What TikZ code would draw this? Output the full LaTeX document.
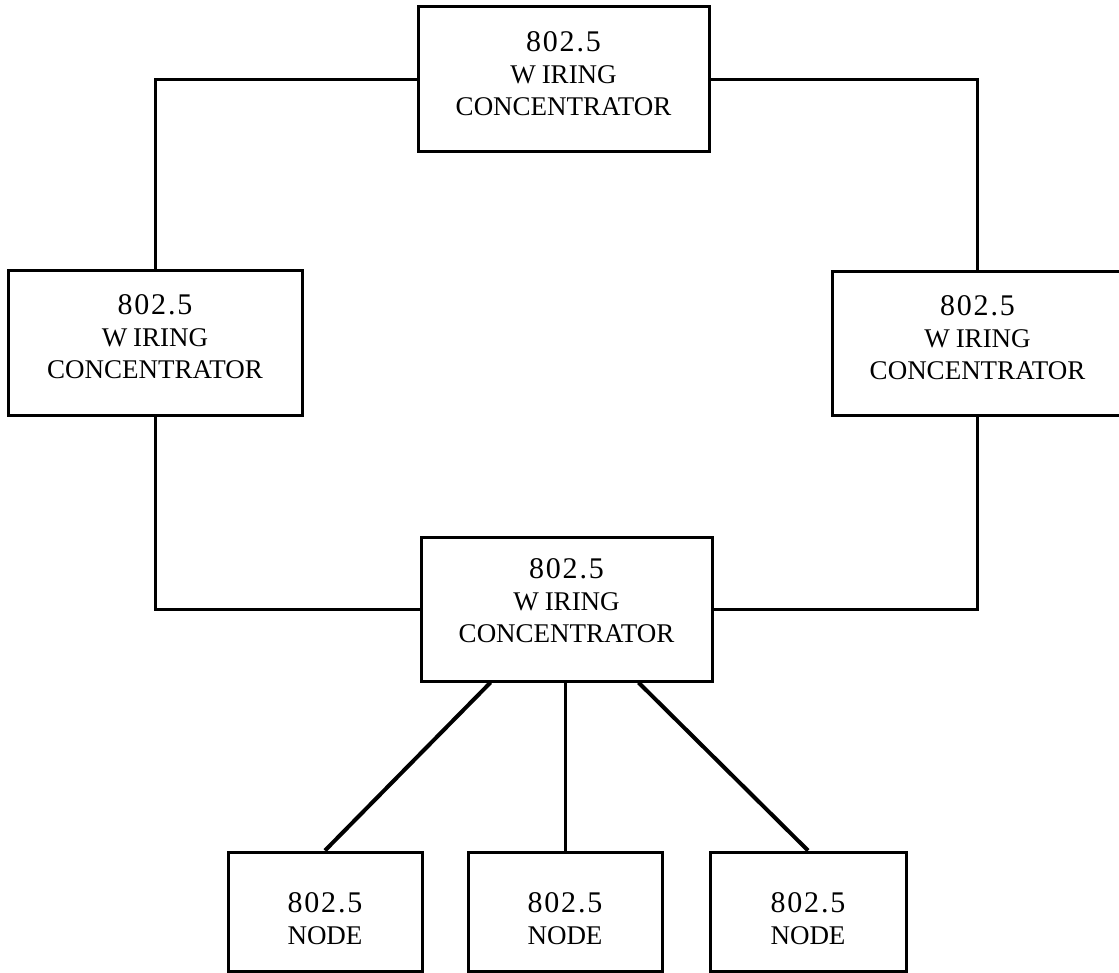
\documentclass[tikz,border=0pt]{standalone}
\usepackage{fontspec}
\setmainfont{Liberation Serif}
\newfontfamily\spacedfont[LetterSpace=6]{Liberation Serif}
\newcommand{\num}{{\spacedfont\fontsize{30}{32}\selectfont 802.5}}
\newcommand{\wiring}{W\kern6pt IRING}
\begin{document}
\begin{tikzpicture}[x=1pt,y=-1pt,
  box/.style={draw, line width=3pt, rectangle, inner sep=0pt, minimum width=291pt, minimum height=144pt},
  nodebox/.style={draw, line width=3pt, rectangle, inner sep=0pt, minimum width=194pt, minimum height=119pt},
  lbl/.style={align=center, font=\fontsize{27}{32}\selectfont, inner sep=0pt},
  ring/.style={line width=3pt},
  drop/.style={line width=4pt}]
\useasboundingbox (0,0) rectangle (1119,973);

% wiring concentrators
\node[box, minimum height=145pt] (top) at (563.5,79.5) {};
\node[lbl] (toptext) at ([yshift=6pt]top.center) {\num\\\wiring\\CONCENTRATOR};
\node[box, minimum width=294pt] (left) at (155,343) {};
\node[lbl] (lefttext) at ([yshift=6pt]left.center) {\num\\\wiring\\CONCENTRATOR};
\node[box, minimum height=143pt] (right) at (977.5,343.5) {};
\node[lbl] (righttext) at ([yshift=6pt]right.center) {\num\\\wiring\\CONCENTRATOR};
\node[box] (hub) at (566.5,609) {};
\node[lbl] (hubtext) at ([yshift=8pt]hub.center) {\num\\\wiring\\CONCENTRATOR};

% stations
\node[nodebox] (n1) at (325,911.5) {};
\node[lbl] (n1text) at ([yshift=-7pt]n1.center) {\num\\NODE};
\node[nodebox] (n2) at (565,911.5) {};
\node[lbl] (n2text) at ([yshift=-7pt]n2.center) {\num\\NODE};
\node[nodebox, minimum width=196pt] (n3) at (808,911.5) {};
\node[lbl] (n3text) at ([yshift=-7pt]n3.center) {\num\\NODE};

% ring between the concentrators
\draw[ring] (top.west) -| (left.north);
\draw[ring] (left.south) |- (hub.west);
\draw[ring] (top.east) -| (right.north);
\draw[ring] (right.south) |- (hub.east);

% lobes from the hub to the stations
\coordinate (d1) at ([xshift=-76pt]hub.south);
\coordinate (d2) at ([xshift=-1.5pt]hub.south);
\coordinate (d3) at ([xshift=72pt]hub.south);
\draw[drop] (d1) -- (n1.north);
\draw[ring] (d2) -- (n2.north);
\draw[drop] (d3) -- (n3.north);
\end{tikzpicture}
\end{document}
